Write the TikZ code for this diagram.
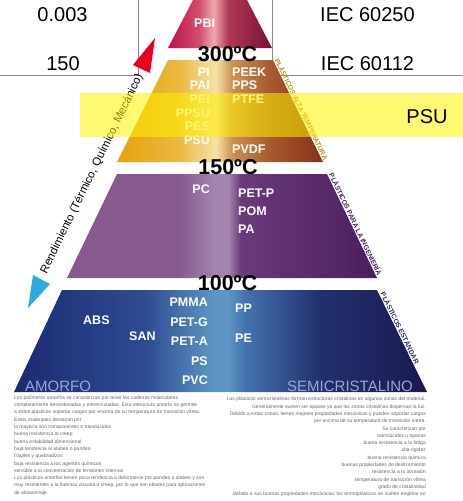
\documentclass[tikz,border=0pt]{standalone}
\usepackage{fontspec}
\setmainfont{Liberation Sans}
\usetikzlibrary{positioning}

\definecolor{gridgray}{HTML}{8A8A8A}
\definecolor{pbiL}{HTML}{C0104C}
\definecolor{pbiM}{HTML}{D24E6E}
\definecolor{pbiC}{HTML}{F0A8AC}
\definecolor{pbiN}{HTML}{B03858}
\definecolor{pbiR}{HTML}{7A1034}
\definecolor{htL}{HTML}{E6A20C}
\definecolor{htM}{HTML}{ECB840}
\definecolor{htC}{HTML}{F5E2A6}
\definecolor{htN}{HTML}{CC9050}
\definecolor{htO}{HTML}{A85A30}
\definecolor{htR}{HTML}{86301A}
\definecolor{engL}{HTML}{87598F}
\definecolor{engC}{HTML}{A485B0}
\definecolor{engN}{HTML}{6A3A7A}
\definecolor{engR}{HTML}{4A1E5E}
\definecolor{stdL}{HTML}{1B2A72}
\definecolor{stdM}{HTML}{2E4C92}
\definecolor{stdC}{HTML}{5C94C4}
\definecolor{stdN}{HTML}{4472AE}
\definecolor{stdO}{HTML}{22306E}
\definecolor{stdR}{HTML}{191A50}
\definecolor{htlabel}{HTML}{B89018}
\definecolor{englabel}{HTML}{4A2060}
\definecolor{stdlabel}{HTML}{2A2A60}
\definecolor{kindgray}{HTML}{9CA6D0}
\definecolor{notegray}{HTML}{666666}
\definecolor{uparrow}{HTML}{E8001C}
\definecolor{downarrow}{HTML}{2EAAE0}

\pgfdeclarehorizontalshading{pbishade}{100bp}{color(0bp)=(pbiL); color(25bp)=(pbiL); color(40bp)=(pbiM); color(47bp)=(pbiC); color(54bp)=(pbiN); color(75bp)=(pbiR); color(100bp)=(pbiR)}
\pgfdeclarehorizontalshading{htshade}{100bp}{color(0bp)=(htL); color(25bp)=(htL); color(40bp)=(htM); color(49bp)=(htC); color(53bp)=(htN); color(62bp)=(htO); color(75bp)=(htR); color(100bp)=(htR)}
\pgfdeclarehorizontalshading{engshade}{100bp}{color(0bp)=(engL); color(25bp)=(engL); color(43bp)=(engL); color(49bp)=(engC); color(51bp)=(engC); color(53bp)=(engN); color(75bp)=(engR); color(100bp)=(engR)}
\pgfdeclarehorizontalshading{stdshade}{100bp}{color(0bp)=(stdL); color(25bp)=(stdL); color(41bp)=(stdM); color(49bp)=(stdC); color(51bp)=(stdC); color(53bp)=(stdN); color(62bp)=(stdO); color(75bp)=(stdR); color(100bp)=(stdR)}

\begin{document}
\begin{tikzpicture}[x=1pt,y=-1pt,
    tablelabel/.style={anchor=base, inner sep=0pt, font=\fontsize{20}{24}\selectfont},
    plastic/.style={anchor=base, inner sep=0pt, text=white, font=\bfseries\fontsize{12.5}{15}\selectfont},
    lcol/.style={plastic, anchor=base east},
    rcol/.style={plastic, anchor=base west},
    templabel/.style={anchor=base, inner sep=0pt, font=\bfseries\fontsize{21.5}{25}\selectfont},
    sidelabel/.style={sloped, above, inner sep=1pt, font=\bfseries\fontsize{6.8}{8}\selectfont},
    kindlabel/.style={anchor=base west, inner sep=0pt, text=kindgray, font=\fontsize{15}{18}\selectfont},
    notes/.style={inner sep=0pt, text=notegray, font=\fontsize{5}{7.3}\selectfont}]
  \useasboundingbox (0,0) rectangle (463,501);

  % table lines
  \draw[gridgray, line width=1pt] (138,0) -- (138,75) -- (0,75);
  \draw[gridgray, line width=1pt] (272,0) -- (272,75) -- (463,75);

  % pyramid
  \shade[shading=pbishade] (168,48) -- (193,0) -- (247,0) -- (272,48) -- cycle;
  \shade[shading=htshade] (117,162) -- (168,60) -- (273,60) -- (323,162) -- cycle;
  \shade[shading=engshade] (67,278) -- (117,174) -- (327,174) -- (377,278) -- cycle;
  \shade[shading=stdshade] (14,392) -- (62,290) -- (377,290) -- (427,392) -- cycle;

  % edge labels
  \path (273,60) -- (323,162) node[sidelabel, midway, text=htlabel] (hightemp) {PLÁSTICOS ALTA TEMPERATURA};
  \path (327,174) -- (377,278) node[sidelabel, midway, text=englabel] (engineering) {PLÁSTICOS PARA LA INGENIERÍA};
  \path (377,290) -- (427,392) node[sidelabel, pos=0.39, text=stdlabel] (standard) {PLÁSTICOS ESTÁNDAR};

  % table texts
  \node[tablelabel] (rho) at (62.5,21) {0.003};
  \node[tablelabel] (iecA) at (367.5,21) {IEC 60250};
  \node[tablelabel] (cti) at (63,70) {150};
  \node[tablelabel] (iecB) at (367.5,70) {IEC 60112};

  % plastics
  \node[plastic, anchor=base west] (pbi) at (194,27) {PBI};
  \node[lcol] (pi) at (210,76) {PI};
  \node[lcol] (pai) at (210,89) {PAI};
  \node[lcol] (pei) at (210,103) {PEI};
  \node[lcol] (ppsu) at (210,117) {PPSU};
  \node[lcol] (pes) at (210,130.5) {PES};
  \node[lcol] (psu) at (210,144) {PSU};
  \node[rcol] (peek) at (232,76) {PEEK};
  \node[rcol] (pps) at (232,89) {PPS};
  \node[rcol] (ptfe) at (232,103) {PTFE};
  \node[rcol] (pvdf) at (232,153) {PVDF};

  \node[lcol] (pc) at (210,193) {PC};
  \node[rcol] (petp) at (238,197) {PET-P};
  \node[rcol] (pom) at (238,215) {POM};
  \node[rcol] (pa) at (238,233) {PA};

  \node[rcol] (abs) at (83,324) {ABS};
  \node[rcol] (san) at (129,340) {SAN};
  \node[lcol] (pmma) at (208,306) {PMMA};
  \node[lcol] (petg) at (208,326) {PET-G};
  \node[lcol] (peta) at (208,345) {PET-A};
  \node[lcol] (ps) at (208,365) {PS};
  \node[lcol] (pvc) at (208,384) {PVC};
  \node[rcol] (pp) at (235,312) {PP};
  \node[rcol] (pe) at (235,342) {PE};

  \node[kindlabel] (amorph) at (25,391) {AMORFO};
  \node[kindlabel, anchor=base east] (cryst) at (413,391) {SEMICRISTALINO};

  % temperatures
  \node[templabel] (tthree) at (227.5,61.5) {300ºC};
  \node[templabel] (tone) at (228,174) {150ºC};
  \node[templabel] (tzero) at (227.5,290) {100ºC};

  % performance arrow
  \coordinate (hi) at (155,38);
  \coordinate (lo) at (28,308);
  \fill[uparrow] (hi) -- (133,65) -- (150,73) -- cycle;
  \fill[downarrow] (lo) -- (33,275) -- (50,284) -- cycle;
  \node[rotate=64, inner sep=0pt, font=\fontsize{11.4}{13}\selectfont] (perf) at (92,174) {Rendimiento (Térmico, Químico, Mecánico)};

  % highlight band
  \fill[yellow, opacity=0.55] (80,93) rectangle (463,137);
  \node[tablelabel] (psuband) at (427,123) {PSU};

  % notes
  \node[notes, anchor=north west, align=left] (amorphnotes) at (14,395.5) {Los polímeros amorfos se caracterizan por tener las cadenas moleculares\\
    completamente desordenadas y entrecruzadas. Esta estructura amorfa no permite\\
    a estos plásticos soportar cargas por encima de su temperatura de transición vítrea.\\
    Estos materiales destacan por\\
    la mayoría son transparentes o translúcidos\\
    buena resistencia al creep\\
    buena estabilidad dimensional\\
    baja tendencia al alabeo o pandeo\\
    frágiles y quebradizos\\
    baja resistencia a los agentes químicos\\
    sensible a la concentración de tensiones internas\\
    Los plásticos amorfos tienen poca tendencia a deformarse por pandeo o alabeo y son\\
    muy resistentes a la fluencia viscosa o creep, por lo que son ideales para aplicaciones\\
    de almacenaje.};
  \node[notes, anchor=north east, align=right] (crystnotes) at (426,397) {Los plásticos semicristalinos forman estructuras cristalinas en algunas zonas del material.\\
    Generalmente suelen ser opacos ya que las zonas cristalinas dispersan la luz.\\
    Debido a estas zonas, tienen mejores propiedades mecánicas y pueden soportar cargas\\
    por encima de su temperatura de transición vítrea.\\
    Se caracterizan por\\
    translúcidos u opacos\\
    buena resistencia a la fatiga\\
    alta rigidez\\
    buena resistencia química\\
    buenas propiedades de deslizamiento\\
    resistencia a la abrasión\\
    temperatura de transición vítrea\\
    grado de cristalinidad\\
    Debido a sus buenas propiedades mecánicas, los termoplásticos se suelen emplear en};
\end{tikzpicture}
\end{document}
